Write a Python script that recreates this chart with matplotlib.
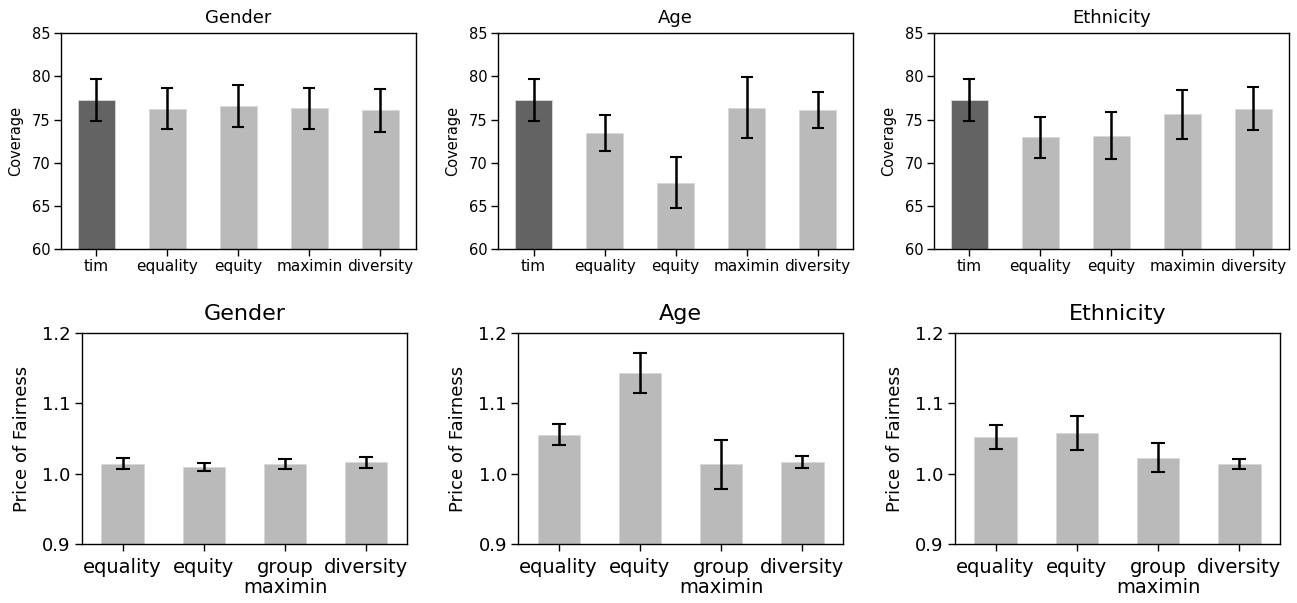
import numpy as np
import matplotlib
matplotlib.use("Agg")
import matplotlib.pyplot as plt

# --- coverage data (top row) ---
cov_labels = ["tim", "equality", "equity", "maximin", "diversity"]
cov_gender = [77.27, 76.27, 76.58, 76.30, 76.07]
cov_gender_err = [2.4, 2.4, 2.4, 2.4, 2.5]
cov_age = [77.27, 73.45, 67.69, 76.38, 76.07]
cov_age_err = [2.4, 2.05, 2.93, 3.5, 2.1]
cov_eth = [77.27, 72.94, 73.14, 75.61, 76.27]
cov_eth_err = [2.4, 2.35, 2.7, 2.85, 2.5]

# --- price of fairness data (bottom row) ---
pof_labels = ["equality", "equity", "group\nmaximin", "diversity"]
pof_gender = [1.0138, 1.0096, 1.0138, 1.0162]
pof_gender_err = [0.0078, 0.006, 0.007, 0.0078]
pof_age = [1.0554, 1.1428, 1.0134, 1.0162]
pof_age_err = [0.0147, 0.0286, 0.0347, 0.0083]
pof_eth = [1.0521, 1.0573, 1.0228, 1.0138]
pof_eth_err = [0.0172, 0.024, 0.0203, 0.0076]

titles = ["Gender", "Age", "Ethnicity"]
dark = "#636363"
light = "#bababa"

fig = plt.figure(figsize=(12.97, 6.03), dpi=100)

top_lefts = [0.047, 0.384, 0.720]
bot_lefts = [0.0632, 0.3994, 0.7363]

cov_sets = [(cov_gender, cov_gender_err), (cov_age, cov_age_err), (cov_eth, cov_eth_err)]
pof_sets = [(pof_gender, pof_gender_err), (pof_age, pof_age_err), (pof_eth, pof_eth_err)]

# top row: coverage
for i, (vals, errs) in enumerate(cov_sets):
    ax = fig.add_axes([top_lefts[i], 0.587, 0.2737, 0.358])
    x = np.arange(len(cov_labels))
    colors = [dark] + [light] * (len(cov_labels) - 1)
    ax.bar(x, vals, width=0.52, color=colors, edgecolor="#d8d8d8", linewidth=0.6,
           yerr=errs, capsize=4.5,
           error_kw=dict(elinewidth=1.8, capthick=1.5, ecolor="black"))
    ax.set_xlim(-0.5, len(cov_labels) - 0.5)
    ax.set_ylim(60, 85)
    ax.set_yticks([60, 65, 70, 75, 80, 85])
    ax.set_xticks(x)
    ax.set_xticklabels(cov_labels, fontsize=11)
    ax.tick_params(axis="both", length=5, width=1)
    ax.tick_params(axis="x", pad=2.5)
    ax.tick_params(axis="y", labelsize=10.5, pad=2.5)
    for s in ax.spines.values():
        s.set_linewidth(1)
    ax.set_ylabel("Coverage", fontsize=10.5, labelpad=6)
    ax.set_title(titles[i], fontsize=13, pad=7)

# bottom row: price of fairness
for i, (vals, errs) in enumerate(pof_sets):
    ax = fig.add_axes([bot_lefts[i], 0.0978, 0.2506, 0.350])
    x = np.arange(len(pof_labels))
    ax.bar(x, vals, width=0.52, color=light, edgecolor="#d8d8d8", linewidth=0.6,
           yerr=errs, capsize=5,
           error_kw=dict(elinewidth=1.8, capthick=1.5, ecolor="black"))
    ax.set_xlim(-0.5, len(pof_labels) - 0.5)
    ax.set_ylim(0.9, 1.2)
    ax.set_yticks([0.9, 1.0, 1.1, 1.2])
    ax.set_xticks(x)
    ax.set_xticklabels(pof_labels, fontsize=14, linespacing=1.05)
    ax.tick_params(axis="both", length=5, width=1)
    ax.tick_params(axis="x", pad=5)
    ax.tick_params(axis="y", labelsize=13, pad=3)
    for s in ax.spines.values():
        s.set_linewidth(1)
    ax.set_ylabel("Price of Fairness", fontsize=13, labelpad=8)
    ax.set_title(titles[i], fontsize=16, pad=9)

fig.savefig("out.png", dpi=100)
